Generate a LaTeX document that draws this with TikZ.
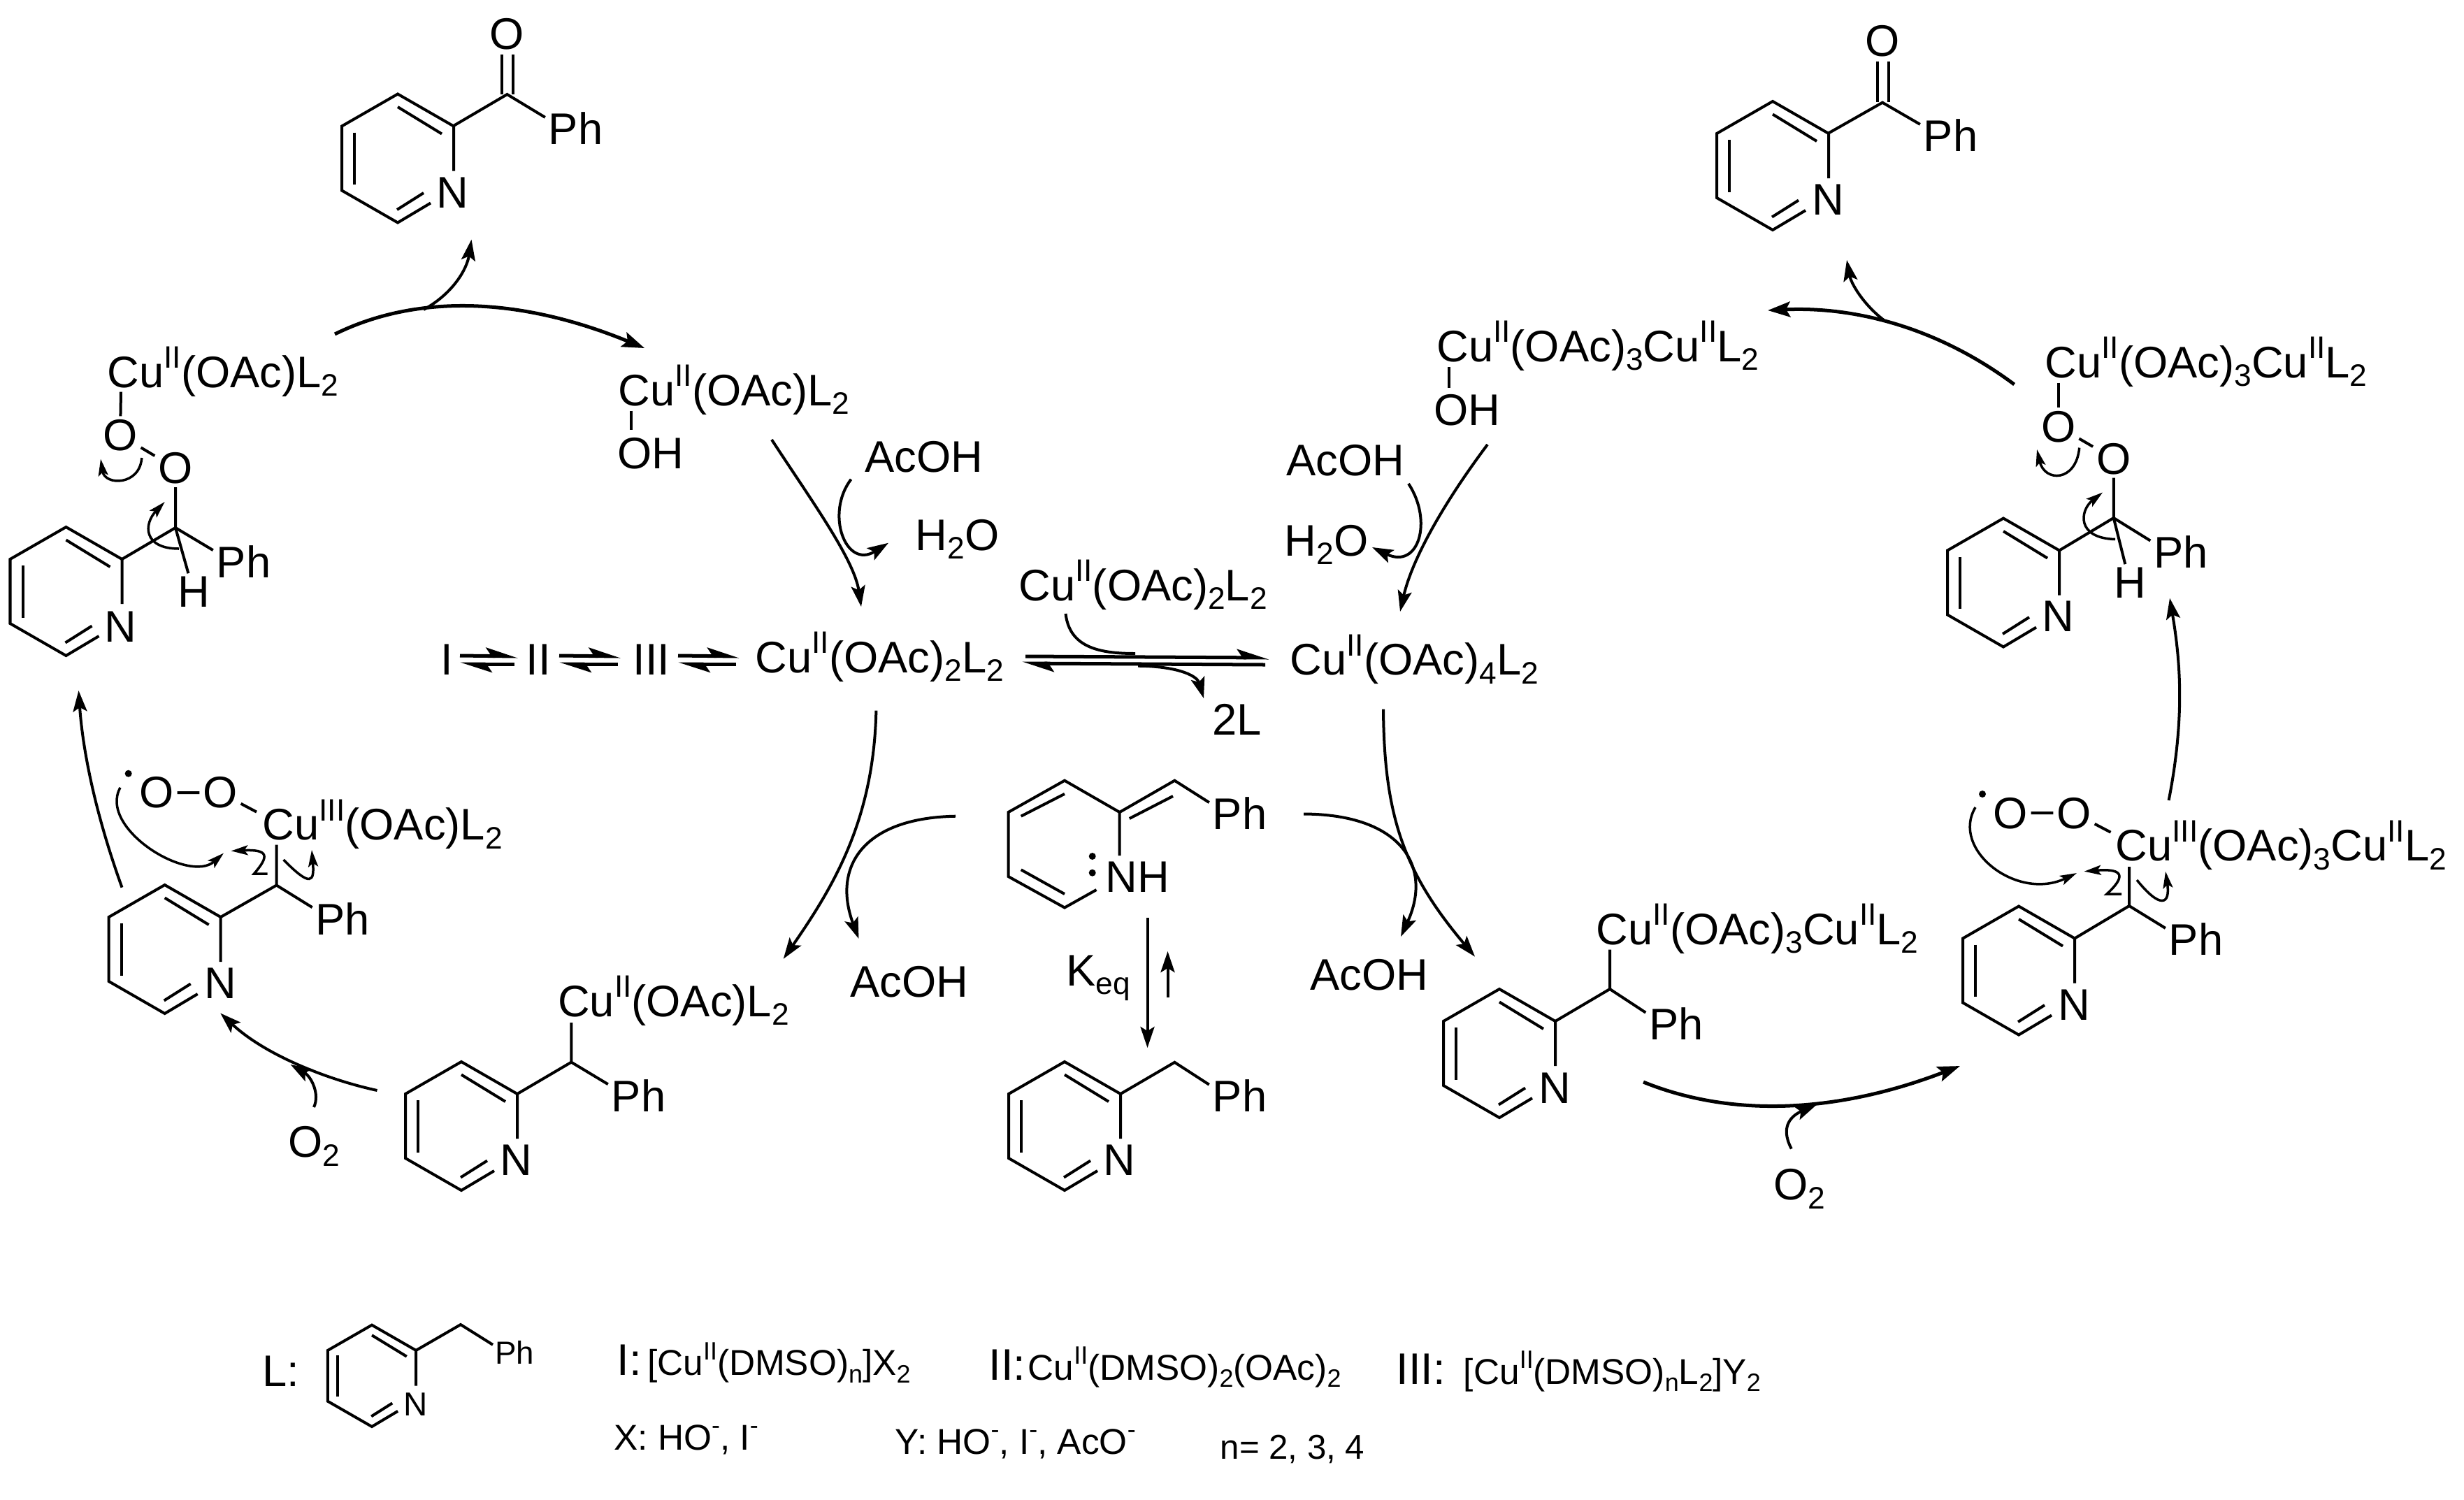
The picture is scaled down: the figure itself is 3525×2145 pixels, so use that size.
\documentclass[tikz,border=0pt]{standalone}
\usepackage{fontspec}
\setmainfont{Liberation Sans}
\usetikzlibrary{arrows.meta}

\newcommand{\Up}[1]{\raisebox{0.43em}{\scalebox{0.7}{#1}}}
\newcommand{\Dn}[1]{\raisebox{-0.2em}{\scalebox{0.7}{#1}}}
\newcommand{\fmain}{\fontsize{18}{20}\selectfont}
\newcommand{\fleg}{\fontsize{14.6}{17}\selectfont}

\tikzset{
  bond/.style={line width=0.04cm},
  arr/.style={line width=0.04cm,-{Stealth[length=0.3cm,width=0.2cm,inset=0.06cm]}},
  thk/.style={line width=0.05cm,-{Stealth[length=0.32cm,width=0.22cm,inset=0.06cm]}},
  hook/.style={line width=0.035cm,-{Stealth[length=0.24cm,width=0.14cm,inset=0.05cm]}},
  eqtop/.style={line width=0.05cm,-{Stealth[harpoon,length=0.38cm,width=0.24cm,inset=0.08cm]}},
  eqbot/.style={line width=0.05cm,-{Stealth[harpoon,length=0.38cm,width=0.24cm,inset=0.08cm]}},
  pyridine/.pic={
    \draw[bond] (80,18) -- (80,-46) -- (0,-92) -- (-80,-46) -- (-80,46) -- (0,92) -- (47,64);
    \draw[bond] (0,-73.5) -- (63,-35);
    \draw[bond] (-61.6,-37) -- (-61.6,37.5);
    \draw[bond] (-1,73.5) -- (37,49.5);
  }
}

\begin{document}
\begin{tikzpicture}[x=0.01cm,y=-0.01cm]
  \useasboundingbox (0,0) rectangle (3525,2145);

  % formula labels
  \begin{scope}[every node/.style={anchor=base west,inner sep=0pt,font=\fmain}]
    \node (cutl)  at (153,554)    {Cu\Up{II}(OAc)L\Dn{2}};
    \node (cuoh)  at (884,580)    {Cu\Up{II}(OAc)L\Dn{2}};
    \node (ohl)   at (882.4,670)  {OH};
    \node (acohl) at (1237,675.7) {AcOH};
    \node (h2ol)  at (1309,787)   {H\Dn{2}O};
    \node (cutr)  at (2054.6,517) {Cu\Up{II}(OAc)\Dn{3}Cu\Up{II}L\Dn{2}};
    \node (ohr)   at (2051,608)   {OH};
    \node (acohr) at (1839.5,680.7) {AcOH};
    \node (h2or)  at (1837,795)   {H\Dn{2}O};
    \node (cuor)  at (2925,540)   {Cu\Up{II}(OAc)\Dn{3}Cu\Up{II}L\Dn{2}};
    \node (cumid) at (1456.7,859) {Cu\Up{II}(OAc)\Dn{2}L\Dn{2}};
    \node (cu2)   at (1080,962)   {Cu\Up{II}(OAc)\Dn{2}L\Dn{2}};
    \node (cu4)   at (1845,965.7) {Cu\Up{II}(OAc)\Dn{4}L\Dn{2}};
    \node (spi)   at (630,965)    {I};
    \node (spii)  at (752,965)    {II};
    \node (spiii) at (905,965)    {III};
    \node (twol)  at (1734,1051)  {2L};
    \node (cuoo)  at (375,1201.8) {Cu\Up{III}(OAc)L\Dn{2}};
    \node (cuoor) at (3026,1231.7) {Cu\Up{III}(OAc)\Dn{3}Cu\Up{II}L\Dn{2}};
    \node (culo)  at (797.4,1454) {Cu\Up{II}(OAc)L\Dn{2}};
    \node (culor) at (2283,1351)  {Cu\Up{II}(OAc)\Dn{3}Cu\Up{II}L\Dn{2}};
    \node (acoha) at (1216,1426)  {AcOH};
    \node (acohb) at (1873.6,1416) {AcOH};
    \node (keq)   at (1525,1410)  {K\Dn{eq}};
    \node (o2l)   at (411.7,1655.8) {O\Dn{2}};
    \node (o2r)   at (2537,1716.5) {O\Dn{2}};
    \node (nh)    at (1581,1276)  {NH};
    \node (legl)  at (375,1983)   {L:};
    \node (legi)  at (882,1967.7) {I:{\fleg\hspace{-0.06cm}\ [Cu\Up{II}(DMSO)\Dn{n}]X\Dn{2}}};
    \node (legii) at (1414,1974)  {II:{\fleg\hspace{-0.11cm}\ Cu\Up{II}(DMSO)\Dn{2}(OAc)\Dn{2}}};
    \node (legiii) at (1997,1980) {III:{\fleg\hspace{-0.17cm}\ \ \ [Cu\Up{II}(DMSO)\Dn{n}L\Dn{2}]Y\Dn{2}}};
    \node[font=\fleg] (legx) at (877.6,2074) {X: HO\Up{-}, I\Up{-}};
    \node[font=\fleg] (legy) at (1280,2080)  {Y: HO\Up{-}, I\Up{-}, AcO\Up{-}};
    \node[font=\fontsize{14}{16}\selectfont] (legn) at (1745,2087) {n= 2, 3, 4};
  \end{scope}

  % atoms
  \begin{scope}[every node/.style={anchor=base,inner sep=0pt,outer sep=0.05cm,font=\fmain}]
    \node (otl)  at (725.5,70.5) {O};
    \node (phtl) at (823.5,206.7) {Ph};
    \node (ntl)  at (647.7,297)  {N};
    \node (otr)  at (2693,80)    {O};
    \node (phtr) at (2790.5,216.7) {Ph};
    \node (ntr)  at (2615,307)   {N};
    \node (oa)   at (172,644.5)  {O};
    \node (ob)   at (251,691.5)  {O};
    \node (phl)  at (348.5,826)  {Ph};
    \node (hl)   at (277,868.8)  {H};
    \node (nl)   at (172,918)    {N};
    \node (oc)   at (2944.7,632) {O};
    \node (od)   at (3023.7,678) {O};
    \node (phr)  at (3120,812.4) {Ph};
    \node (hr)   at (3047,855.7) {H};
    \node (nr)   at (2944.7,903.5) {N};
    \node (oe)   at (224,1155.8) {O};
    \node (of)   at (315,1155.8) {O};
    \node (phm)  at (490.4,1337) {Ph};
    \node (nm)   at (315,1428.6) {N};
    \node (og)   at (2876,1185)  {O};
    \node (oh)   at (2967,1185)  {O};
    \node (phn)  at (3141.5,1366.7) {Ph};
    \node (nn)   at (2967,1459)  {N};
    \node (phlo) at (913.5,1590) {Ph};
    \node (nlo)  at (738.5,1681.7) {N};
    \node (phen) at (1773.5,1186.9) {Ph};
    \node (phbz) at (1773.5,1590.6) {Ph};
    \node (nbz)  at (1601.7,1681) {N};
    \node (phlr) at (2398,1487.5) {Ph};
    \node (nlr)  at (2224.5,1578) {N};
    \node[font=\fontsize{13.5}{15}\selectfont] (nleg) at (595,2025) {N};
    \node[font=\fontsize{13}{15}\selectfont,outer sep=0.03cm] (phleg) at (736,1951.7) {Ph};
  \end{scope}

  % radical and lone pair dots
  \begin{scope}[every node/.style={circle,fill,inner sep=0pt,minimum size=0.1cm}]
    \node (rada) at (183.7,1106.7) {};
    \node (radb) at (2836,1136) {};
    \node (lpa)  at (1562.7,1225) {};
    \node (lpb)  at (1562.7,1248.7) {};
  \end{scope}

  % pyridine rings
  \pic at (569,226.5)  {pyridine};
  \pic at (2536,237)   {pyridine};
  \pic at (94.5,846)   {pyridine};
  \pic at (2866,833.5) {pyridine};
  \pic at (235.7,1358) {pyridine};
  \pic at (2888,1388.5) {pyridine};
  \pic at (660,1611)   {pyridine};
  \pic at (2145,1507)  {pyridine};
  \pic at (1523,1611)  {pyridine};
  \pic[scale=0.79] at (532,1968.3) {pyridine};

  % ring substituents
  \coordinate (ctl) at (725.5,135);
  \coordinate (ctr) at (2693,146.7);
  \draw[bond] (648,180.5) -- (ctl) -- (phtl.160);
  \draw[bond] (718,78) -- (718,135);
  \draw[bond] (734,78) -- (734,135);
  \draw[bond] (2615,191) -- (ctr) -- (phtr.160);
  \draw[bond] (2685.6,88) -- (2685.6,146);
  \draw[bond] (2701.5,88) -- (2701.5,146);

  \coordinate (cl) at (251,755);
  \coordinate (cr) at (3023.7,741);
  \coordinate (cm) at (395.6,1266.5);
  \coordinate (cn) at (3046,1296);
  \coordinate (clo) at (817.3,1519.6);
  \coordinate (clr) at (2303,1415);
  \coordinate (cbz) at (1680.4,1519.8);
  \coordinate (cleg) at (659,1895);

  \coordinate (cua) at (173,560.7);
  \coordinate (cub) at (2944.7,547.6);
  \draw[bond] (cua) -- (oa);
  \draw[bond] (oa) -- (ob) -- (cl);
  \draw[bond] (174.5,800) -- (cl) -- (phl.160);
  \draw[bond] (cl) -- (hl);
  \draw[bond] (cub) -- (oc);
  \draw[bond] (oc) -- (od) -- (cr);
  \draw[bond] (2946,787.5) -- (cr) -- (phr.160);
  \draw[bond] (cr) -- (hr);

  \coordinate (cuc) at (395.6,1208.5);
  \coordinate (cud) at (3046,1240);
  \coordinate (cue) at (367,1161.6);
  \coordinate (cuf) at (3019.5,1190.7);
  \draw[bond] (oe) -- (of) -- (cue);
  \draw[bond] (cuc) -- (cm) -- (phm.160);
  \draw[bond] (315.7,1312) -- (cm);
  \draw[bond] (og) -- (oh) -- (cuf);
  \draw[bond] (cud) -- (cn) -- (phn.160);
  \draw[bond] (2968,1342.5) -- (cn);

  \coordinate (cug) at (817.3,1463);
  \coordinate (cuh) at (2303,1358.7);
  \draw[bond] (cug) -- (clo) -- (phlo.160);
  \draw[bond] (740,1565) -- (clo);
  \draw[bond] (cuh) -- (clr) -- (phlr.160);
  \draw[bond] (2225,1461) -- (clr);
  \draw[bond] (1603,1565) -- (cbz) -- (phbz.160);
  \draw[bond] (595,1932) -- (cleg) -- (phleg.160);

  \coordinate (cui) at (903,587.5);
  \coordinate (cuj) at (2073,525);
  \draw[bond] (cui) -- (903,615);
  \draw[bond] (cuj) -- (2073,555);

  % enamine
  \coordinate (cen) at (1680.4,1116.7);
  \draw[bond] (1601.7,1224) -- (1601.7,1162) -- (1523,1116.7) -- (1442.5,1162) -- (1442.5,1254) -- (1523,1298.5) -- (1568.5,1273);
  \draw[bond] (1460.7,1167.7) -- (1523,1135.8);
  \draw[bond] (1460.7,1244.3) -- (1523,1279);
  \draw[bond] (1601.7,1162) -- (cen) -- (phen.160);
  \draw[bond] (1615.8,1171) -- (1678,1139);

  % equilibria
  \coordinate (ea) at (658,938);
  \coordinate (eb) at (741,939);
  \coordinate (ec) at (736,950);
  \coordinate (ed) at (658,950);
  \coordinate (ee) at (800,938);
  \coordinate (ef) at (888,939);
  \coordinate (eg) at (884,950);
  \coordinate (eh) at (800,950);
  \coordinate (ei) at (970,938);
  \coordinate (ej) at (1057.6,939);
  \coordinate (ek) at (1053,950);
  \coordinate (el) at (970,950);
  \coordinate (em) at (1467,939);
  \coordinate (en) at (1815.5,941);
  \coordinate (eo) at (1810,951);
  \coordinate (ep) at (1462,949);
  \draw[eqtop] (ea) -- (eb);
  \draw[eqbot] (ec) -- (ed);
  \draw[eqtop] (ee) -- (ef);
  \draw[eqbot] (eg) -- (eh);
  \draw[eqtop] (ei) -- (ej);
  \draw[eqbot] (ek) -- (el);
  \draw[eqtop] (em) -- (en);
  \draw[eqbot] (eo) -- (ep);

  \coordinate (ka) at (1641.5,1313);
  \coordinate (kb) at (1641.5,1499);
  \coordinate (kc) at (1670.5,1427);
  \coordinate (kd) at (1670.5,1361);
  \draw[arr] (ka) -- (kb);
  \draw[arr] (kc) -- (kd);

  % catalytic cycle arrows
  \coordinate (aa) at (479,478);
  \coordinate (ab) at (922,498);
  \coordinate (ac) at (606,443);
  \coordinate (ad) at (674.5,342.7);
  \draw[thk] (aa) .. controls (599,419) and (747,426) .. (ab);
  \draw[arr] (ac) .. controls (648,420) and (668,385) .. (ad);

  \coordinate (ba) at (1104,629);
  \coordinate (bb) at (1232,868);
  \coordinate (bc) at (1217.5,685.7);
  \coordinate (bd) at (1271,776.7);
  \draw[arr] (ba) .. controls (1160,715) and (1222,800) .. (bb);
  \draw[arr] (bc) .. controls (1180,735) and (1210,815) .. (bd);

  \coordinate (ca) at (2128,636);
  \coordinate (cb) at (2003,875);
  \coordinate (cc) at (2015,692);
  \coordinate (cd) at (1963,783);
  \draw[arr] (ca) .. controls (2065,720) and (2020,800) .. (cb);
  \draw[arr] (cc) .. controls (2050,745) and (2030,815) .. (cd);

  \coordinate (da) at (1524.5,878);
  \coordinate (db) at (1624,935);
  \coordinate (dc) at (1628,952.7);
  \coordinate (dd) at (1722,999);
  \draw[bond] (da) .. controls (1530,925) and (1570,935) .. (db);
  \draw[arr] (dc) .. controls (1680,953) and (1712,965) .. (dd);

  \coordinate (fa) at (1253.4,1016.6);
  \coordinate (fb) at (1120.7,1371.8);
  \coordinate (fc) at (1367,1167.7);
  \coordinate (fd) at (1228.5,1343);
  \draw[arr] (fa) .. controls (1250,1170) and (1195,1265) .. (fb);
  \draw[arr] (fc) .. controls (1235,1170) and (1190,1240) .. (fd);

  \coordinate (ga) at (1979,1014.7);
  \coordinate (gb) at (2110,1368.6);
  \coordinate (gc) at (1865,1164.5);
  \coordinate (gd) at (2004,1340);
  \draw[arr] (ga) .. controls (1980,1170) and (2010,1250) .. (gb);
  \draw[arr] (gc) .. controls (2005,1165) and (2050,1240) .. (gd);

  \coordinate (ha) at (2351,1548);
  \coordinate (hb) at (2804,1525);
  \coordinate (hc) at (2562.8,1643.5);
  \coordinate (hd) at (2598.5,1580.8);
  \draw[thk] (ha) .. controls (2478.7,1599.7) and (2629.7,1592) .. (hb);
  \draw[arr] (hc) .. controls (2545,1610) and (2565,1595) .. (hd);

  \coordinate (ia) at (3102.6,1145);
  \coordinate (ib) at (3104,855.7);
  \draw[arr] (ia) .. controls (3125,1030) and (3120,950) .. (ib);

  \coordinate (ja) at (2881.6,550);
  \coordinate (jb) at (2529,444);
  \coordinate (jc) at (2695,458);
  \coordinate (jd) at (2642,372);
  \draw[thk] (ja) .. controls (2778.5,473) and (2661,438) .. (jb);
  \draw[arr] (jc) .. controls (2665,435) and (2648,405) .. (jd);

  \coordinate (la) at (174.5,1269.6);
  \coordinate (lb) at (112.5,988);
  \draw[arr] (la) .. controls (135,1160) and (118,1070) .. (lb);

  \coordinate (ma) at (539.5,1560);
  \coordinate (mb) at (315.3,1449.5);
  \coordinate (mc) at (449,1584);
  \coordinate (md) at (415.6,1523);
  \draw[arr] (ma) .. controls (470,1545) and (380,1510) .. (mb);
  \draw[arr] (mc) .. controls (458,1565) and (445,1540) .. (md);

  % electron pushing arrows
  \coordinate (pa) at (202.8,655);
  \coordinate (pb) at (144,656.7);
  \coordinate (pc) at (256,785);
  \coordinate (pd) at (235.7,718);
  \draw[hook] (pa) .. controls (200,695) and (150,695) .. (pb);
  \draw[hook] (pc) .. controls (205,785) and (205,750) .. (pd);

  \coordinate (qa) at (2974.7,640.6);
  \coordinate (qb) at (2914,643);
  \coordinate (qc) at (3026,771.5);
  \coordinate (qd) at (3008,704.5);
  \draw[hook] (qa) .. controls (2970,690) and (2925,690) .. (qb);
  \draw[hook] (qc) .. controls (2970,770) and (2975,730) .. (qd);

  \coordinate (ra) at (172,1126.8);
  \coordinate (rb) at (320,1220.5);
  \coordinate (rc) at (382.6,1250);
  \coordinate (rd) at (330.6,1217.4);
  \coordinate (re) at (405.6,1230);
  \coordinate (rf) at (446,1216);
  \draw[hook] (ra) .. controls (140,1185) and (270,1265) .. (rb);
  \draw[hook] (rc) -- (363.5,1250) .. controls (385,1225) and (385,1215) .. (rd);
  \draw[hook] (re) .. controls (445,1270) and (450,1262) .. (rf);

  \coordinate (sa) at (2826,1155);
  \coordinate (sb) at (2971,1249);
  \coordinate (sc) at (3035,1279);
  \coordinate (sd) at (2981.6,1246.7);
  \coordinate (se) at (3057,1259);
  \coordinate (sf) at (3098,1246.7);
  \draw[hook] (sa) .. controls (2790,1215) and (2885,1290) .. (sb);
  \draw[hook] (sc) -- (3014,1279) .. controls (3040,1255) and (3040,1242) .. (sd);
  \draw[hook] (se) .. controls (3090,1300) and (3105,1295) .. (sf);

\end{tikzpicture}
\end{document}
